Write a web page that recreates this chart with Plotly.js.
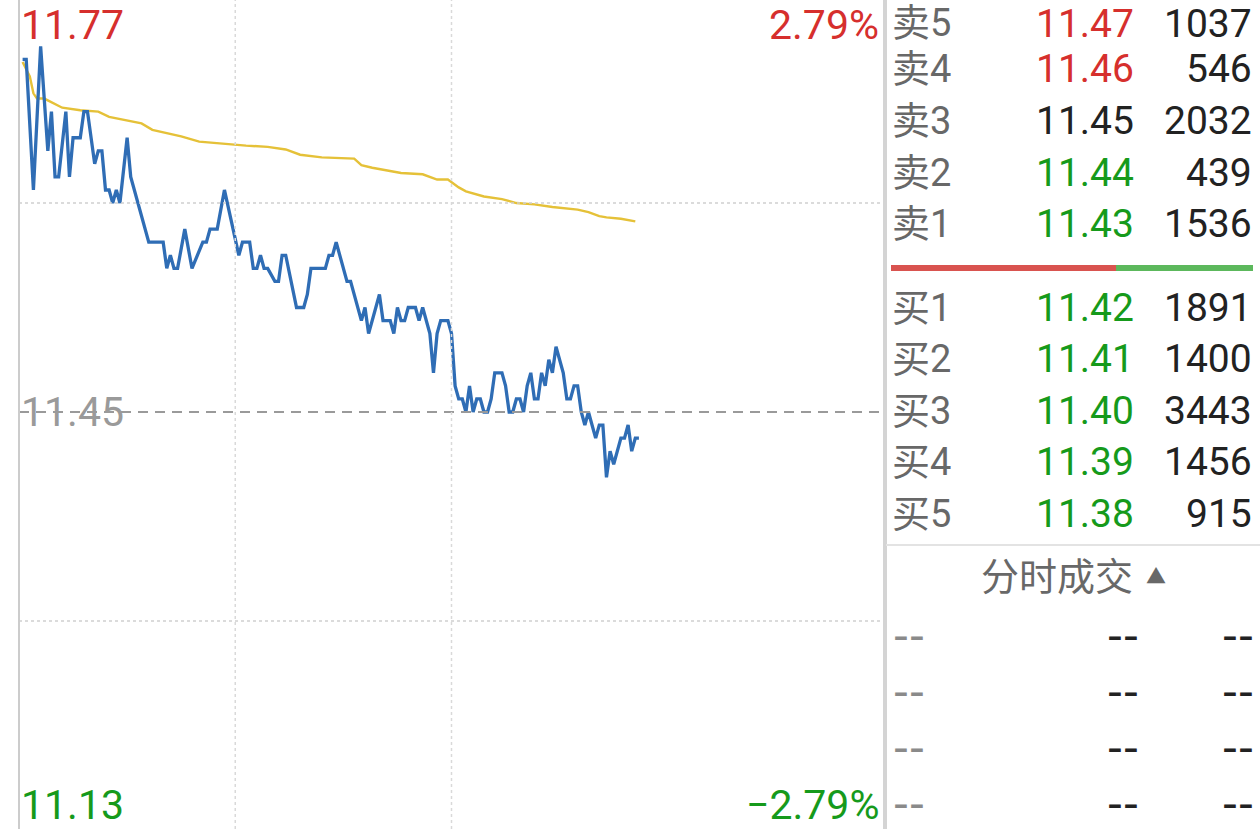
<!DOCTYPE html>
<html>
<head>
<meta charset="utf-8">
<script src="https://cdn.plot.ly/plotly-3.0.1.min.js"></script>
<style>
  html, body { margin: 0; padding: 0; background: #ffffff; }
  #chart { width: 1260px; height: 829px; }
</style>
</head>
<body>
<div id="chart"></div>
<script>
// ---------------- data ----------------
const preClose = 11.45;
const priceTop = 11.77;
const priceBottom = 11.13;
const pctTop = '2.79%';
const pctBottom = '\u22122.79%';

// intraday price (minute index from 9:30, price)
const priceMinutes = [
  1, 2, 4, 6, 8, 9, 10, 11, 13, 14,
  15, 17, 18, 19, 21, 22, 23, 24, 25, 26,
  27, 28, 30, 31, 36, 40, 41, 42, 43, 44,
  46, 48, 51, 52, 53, 55, 57, 61, 62, 64,
  65, 66, 67, 68, 69, 71, 72, 73, 74, 77,
  79, 80, 81, 85, 86, 87, 88, 91, 92, 95,
  96, 97, 100, 101, 103, 104, 105, 106, 107, 108,
  110, 111, 112, 114, 115, 116, 117, 119, 120, 121,
  122, 123, 124, 125, 126, 127, 128, 129, 130, 131,
  132, 134, 135, 136, 137, 138, 139, 140, 141, 142,
  143, 144, 145, 146, 147, 148, 149, 151, 152, 153,
  154, 155, 156, 157, 158, 160, 161, 162, 163, 164,
  165, 167, 168, 169, 170, 171, 172
];
const priceValues = [
  11.72, 11.72, 11.62, 11.73, 11.65, 11.68, 11.63, 11.63, 11.68, 11.63,
  11.66, 11.66, 11.68, 11.68, 11.64, 11.65, 11.65, 11.62, 11.62, 11.61,
  11.62, 11.61, 11.66, 11.63, 11.58, 11.58, 11.56, 11.57, 11.56, 11.56,
  11.59, 11.56, 11.58, 11.58, 11.59, 11.59, 11.62, 11.57, 11.58, 11.58,
  11.56, 11.56, 11.57, 11.56, 11.56, 11.55, 11.55, 11.57, 11.57, 11.53,
  11.53, 11.54, 11.56, 11.56, 11.57, 11.57, 11.58, 11.55, 11.55, 11.52,
  11.53, 11.51, 11.54, 11.52, 11.52, 11.51, 11.53, 11.52, 11.52, 11.53,
  11.53, 11.52, 11.53, 11.51, 11.48, 11.51, 11.52, 11.52, 11.51, 11.47,
  11.46, 11.46, 11.45, 11.47, 11.45, 11.46, 11.46, 11.45, 11.45, 11.46,
  11.48, 11.48, 11.47, 11.45, 11.45, 11.46, 11.46, 11.45, 11.47, 11.48,
  11.46, 11.46, 11.48, 11.47, 11.49, 11.48, 11.50, 11.48, 11.46, 11.46,
  11.47, 11.47, 11.45, 11.44, 11.45, 11.43, 11.44, 11.44, 11.40, 11.42,
  11.41, 11.43, 11.43, 11.44, 11.42, 11.43, 11.43
];

// average price line
const avgMinutes = [
  1, 3, 4, 5, 7, 9, 12, 17, 22, 25,
  29, 34, 37, 45, 50, 58, 63, 69, 74, 78,
  84, 93, 95, 98, 106, 112, 116, 119, 122, 124,
  129, 134, 138, 143, 148, 155, 158, 161, 163, 167,
  171
];
const avgValues = [
  11.718, 11.707, 11.694, 11.690, 11.690, 11.687, 11.683, 11.681, 11.680, 11.676,
  11.674, 11.671, 11.666, 11.661, 11.657, 11.655, 11.654, 11.653, 11.651, 11.647,
  11.645, 11.644, 11.639, 11.637, 11.633, 11.632, 11.628, 11.628, 11.622, 11.619,
  11.615, 11.613, 11.610, 11.609, 11.607, 11.605, 11.603, 11.600, 11.599, 11.598,
  11.596
];

// order book
const askLabels = ['卖5', '卖4', '卖3', '卖2', '卖1'];
const askPrices = [11.47, 11.46, 11.45, 11.44, 11.43];
const askVolumes = [1037, 546, 2032, 439, 1536];
const bidLabels = ['买1', '买2', '买3', '买4', '买5'];
const bidPrices = [11.42, 11.41, 11.40, 11.39, 11.38];
const bidVolumes = [1891, 1400, 3443, 1456, 915];
const tradeTitle = '分时成交';
const tradeRows = [['--', '--', '--'], ['--', '--', '--'], ['--', '--', '--'], ['--', '--', '--']];

// ---------------- styling / layout helpers ----------------
const W = 1260, H = 829;
const RED = '#d62f2d', GREEN = '#169a1b', GRAY_TXT = '#686868', DARK = '#222222';
const FONT = 'Roboto, "Noto Sans CJK SC", sans-serif';
const DASH_FONT = '"DejaVu Sans", sans-serif';
const px = x => x / W;
const py = y => 1 - y / H;

// y-axis scale: 1 cent = ~13.06 px
const pxPerUnit = 1306;
const yMidPx = 412;
const yRange = [preClose - (H - yMidPx) / pxPerUnit, preClose + yMidPx / pxPerUnit];

function priceColor(p) {
  if (p > preClose + 1e-9) return RED;
  if (p < preClose - 1e-9) return GREEN;
  return DARK;
}

const traces = [
  {
    x: avgMinutes, y: avgValues, type: 'scatter', mode: 'lines',
    line: { color: '#e5c138', width: 2.4 }, hoverinfo: 'skip'
  },
  {
    x: priceMinutes, y: priceValues, type: 'scatter', mode: 'lines',
    line: { color: '#2f6db5', width: 3.3 }, hoverinfo: 'skip'
  }
];

const shapes = [
  // horizontal gridlines
  { type: 'line', xref: 'x', yref: 'y', x0: 0, x1: 240, y0: 11.61, y1: 11.61,
    line: { color: '#cfcfcf', width: 1.5, dash: 'dot' } },
  { type: 'line', xref: 'x', yref: 'y', x0: 0, x1: 240, y0: 11.29, y1: 11.29,
    line: { color: '#cfcfcf', width: 1.5, dash: 'dot' } },
  // previous close dashed
  { type: 'line', xref: 'x', yref: 'y', x0: 0, x1: 240, y0: preClose, y1: preClose,
    line: { color: '#9a9a9a', width: 2, dash: '10px,7px' } },
  // vertical gridlines
  { type: 'line', xref: 'x', yref: 'paper', x0: 60, x1: 60, y0: 0, y1: 1,
    line: { color: '#d9d9d9', width: 1.5, dash: 'dot' } },
  { type: 'line', xref: 'x', yref: 'paper', x0: 120, x1: 120, y0: 0, y1: 1,
    line: { color: '#d9d9d9', width: 1.5, dash: 'dot' } },
  // left axis line
  { type: 'line', xref: 'paper', yref: 'paper', x0: px(19), x1: px(19), y0: 0, y1: 1,
    line: { color: '#cccccc', width: 2 } },
  // panel separator
  { type: 'line', xref: 'paper', yref: 'paper', x0: px(885), x1: px(885), y0: 0, y1: 1,
    line: { color: '#d4d4d4', width: 4 } },
  // ask/bid ratio bar
  { type: 'rect', xref: 'paper', yref: 'paper', x0: px(891), x1: px(1116), y0: py(271), y1: py(265),
    fillcolor: '#d9534f', line: { width: 0 } },
  { type: 'rect', xref: 'paper', yref: 'paper', x0: px(1116), x1: px(1253), y0: py(271), y1: py(265),
    fillcolor: '#5cb85c', line: { width: 0 } },
  // separator under bids
  { type: 'line', xref: 'paper', yref: 'paper', x0: px(886), x1: 1, y0: py(545), y1: py(545),
    line: { color: '#e3e3e3', width: 2 } }
];

const annotations = [];
function addText(text, x, y, anchor, color, size, vanchor, family) {
  annotations.push({
    text: text, xref: 'paper', yref: 'paper', x: px(x), y: py(y),
    xanchor: anchor, yanchor: vanchor || 'middle', showarrow: false, borderpad: 0,
    font: { family: family || FONT, size: size, color: color }
  });
}

// chart labels (top row anchored to the top edge so it stays inside)
addText(priceTop.toFixed(2), 20, 0, 'left', RED, 41, 'top');
addText(preClose.toFixed(2), 20, 412, 'left', '#9a9a9a', 41);
addText(priceBottom.toFixed(2), 20, 805, 'left', GREEN, 41);
addText(pctTop, 880, 0, 'right', RED, 41, 'top');
addText(pctBottom, 880, 805, 'right', GREEN, 41);

// order book rows
const askY = [18, 69, 121, 173, 224];
const bidY = [308, 359, 411, 462, 514];
askLabels.forEach((lab, i) => {
  const va = i === 0 ? 'top' : 'middle';
  const yy = i === 0 ? 0 : askY[i];
  addText(lab, 891, yy, 'left', GRAY_TXT, 38, va);
  addText(askPrices[i].toFixed(2), 1135, yy, 'right', priceColor(askPrices[i]), 39, va);
  addText(String(askVolumes[i]), 1253, yy, 'right', DARK, 39, va);
});
bidLabels.forEach((lab, i) => {
  addText(lab, 891, bidY[i], 'left', GRAY_TXT, 38);
  addText(bidPrices[i].toFixed(2), 1135, bidY[i], 'right', priceColor(bidPrices[i]), 39);
  addText(String(bidVolumes[i]), 1253, bidY[i], 'right', DARK, 39);
});

// trade section
addText(tradeTitle, 1057, 577, 'center', GRAY_TXT, 38);
addText('▲', 1156, 577, 'center', GRAY_TXT, 20);
const tradeY = [634, 690, 746, 829];
tradeRows.forEach((row, i) => {
  const last = i === tradeRows.length - 1;
  const va = last ? 'bottom' : 'middle';
  addText(row[0], 892, tradeY[i], 'left', '#8a8a8a', 44, va, DASH_FONT);
  addText(row[1], 1140, tradeY[i], 'right', DARK, 44, va, DASH_FONT);
  addText(row[2], 1255, tradeY[i], 'right', DARK, 44, va, DASH_FONT);
});

const layout = {
  width: W, height: H,
  margin: { l: 0, r: 0, t: 0, b: 0, pad: 0 },
  paper_bgcolor: '#ffffff', plot_bgcolor: '#ffffff',
  showlegend: false,
  xaxis: { domain: [px(19), px(884)], range: [0, 240], showgrid: false, zeroline: false,
           showticklabels: false, showline: false, ticks: '', fixedrange: true },
  yaxis: { domain: [0, 1], range: yRange, showgrid: false, zeroline: false,
           showticklabels: false, showline: false, ticks: '', fixedrange: true },
  shapes: shapes,
  annotations: annotations
};

Plotly.newPlot('chart', traces, layout, { staticPlot: true, displayModeBar: false });
</script>
</body>
</html>
